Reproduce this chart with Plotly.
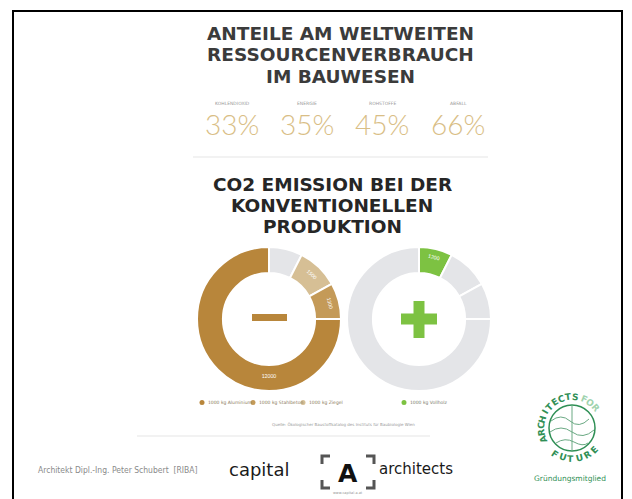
import math
import plotly.graph_objects as go

# ---------------- data ----------------
title_lines = ["ANTEILE AM WELTWEITEN", "RESSOURCENVERBRAUCH", "IM BAUWESEN"]
stat_labels = ["KOHLENDIOXID", "ENERGIE", "ROHSTOFFE", "ABFALL"]
stat_values = ["33%", "35%", "45%", "66%"]
title2_lines = ["CO2 EMISSION BEI DER", "KONVENTIONELLEN", "PRODUKTION"]

left_labels = ["Rest", "1000 kg Ziegel", "1000 kg Stahlbeton", "1000 kg Aluminium"]
left_values = [1200, 1500, 1300, 12000]
left_text = ["", "1500", "1300", "12000"]
left_colors = ["#e4e5e8", "#d6bf95", "#c49a58", "#b8863b"]

right_labels = ["1000 kg Vollholz", "Rest 1", "Rest 2", "Rest 3"]
right_values = [1200, 1500, 1300, 12000]
right_text = ["1200", "", "", ""]
right_colors = ["#7dc242", "#e4e5e8", "#e4e5e8", "#e4e5e8"]

legend_left = ["1000 kg Aluminium", "1000 kg Stahlbeton", "1000 kg Ziegel"]
legend_left_colors = ["#b8863b", "#c49a58", "#d6bf95"]
legend_right = ["1000 kg Vollholz"]
legend_right_colors = ["#7dc242"]

source_text = "Quelle: Ökologischer Baustoffkatalog des Instituts für Baubiologie Wien"
footer_name = "Architekt Dipl.-Ing. Peter Schubert  [RIBA]"

# page body has an 8px margin: figure placed at (8, 8)
OFF = 8
W, H = 632 - OFF, 499 - OFF

fig = go.Figure()

def dom(x0, x1, y0, y1):
    return dict(x=[(x0 - OFF) / W, (x1 - OFF) / W],
                y=[1 - (y1 - OFF) / H, 1 - (y0 - OFF) / H])

fig.add_trace(go.Pie(
    labels=left_labels, values=left_values, text=left_text, textinfo="text",
    sort=False, direction="clockwise", rotation=0, hole=0.64,
    marker=dict(colors=left_colors, line=dict(color="white", width=2)),
    textposition="inside", insidetextorientation="tangential",
    insidetextfont=dict(size=5, color="white", family="Lato"),
    domain=dom(197, 341, 247, 391), showlegend=False, hoverinfo="label+value",
))
fig.add_trace(go.Pie(
    labels=right_labels, values=right_values, text=right_text, textinfo="text",
    sort=False, direction="clockwise", rotation=0, hole=0.64,
    marker=dict(colors=right_colors, line=dict(color="white", width=2)),
    textposition="inside", insidetextorientation="tangential",
    insidetextfont=dict(size=5, color="white", family="Lato"),
    domain=dom(347, 491, 247, 391), showlegend=False, hoverinfo="label+value",
))

ann = []
shapes = []

def A(x, y, text, size, color, family="Lato", weight="normal", angle=0, xanchor="center"):
    ann.append(dict(x=x, y=y, xref="x", yref="y", text=text, showarrow=False,
                    xanchor=xanchor, yanchor="middle", textangle=angle,
                    font=dict(size=size, color=color, family=family, weight=weight)))

# border
shapes.append(dict(type="rect", xref="x", yref="y", x0=13, x1=622, y0=11, y1=502,
                   line=dict(color="black", width=2)))

# titles
for i, t in enumerate(title_lines):
    A(340, 33 + i * 21.5, t, 18.5, "#3b3b3b", family="DejaVu Sans", weight="bold")
for i, t in enumerate(title2_lines):
    A(332, 184 + i * 21, t, 18.5, "#262626", family="DejaVu Sans", weight="bold")

# stats
stat_x = [232, 307, 382, 458]
for x, lab, val in zip(stat_x, stat_labels, stat_values):
    A(x, 103, lab, 4.5, "#9a9a9a", family="DejaVu Sans")
    A(x, 124, val, 28, "#d9be86", family="Lato", weight=300)

# dividers
shapes.append(dict(type="line", xref="x", yref="y", x0=193, x1=488, y0=157, y1=157,
                   line=dict(color="#eeeeee", width=1.5)))
shapes.append(dict(type="line", xref="x", yref="y", x0=137, x1=430, y0=436, y1=436,
                   line=dict(color="#eeeeee", width=1.5)))

# center symbols
shapes.append(dict(type="rect", xref="x", yref="y", x0=252, x1=287, y0=314, y1=321,
                   fillcolor="#b8863b", line=dict(width=0)))
shapes.append(dict(type="rect", xref="x", yref="y", x0=413.5, x1=424.5, y0=301, y1=338,
                   fillcolor="#7dc242", line=dict(width=0)))
shapes.append(dict(type="rect", xref="x", yref="y", x0=401, x1=437, y0=313.5, y1=324.5,
                   fillcolor="#7dc242", line=dict(width=0)))

# legends (manual)
leg_x = [202, 253, 303]
for x, lab, c in zip(leg_x, legend_left, legend_left_colors):
    shapes.append(dict(type="circle", xref="x", yref="y", x0=x - 2.5, x1=x + 2.5,
                       y0=400, y1=405, fillcolor=c, line=dict(width=0)))
    A(x + 4, 402.5, lab, 4.5, "#8a7a5a", family="DejaVu Sans", xanchor="left")
for x, lab, c in zip([404], legend_right, legend_right_colors):
    shapes.append(dict(type="circle", xref="x", yref="y", x0=x - 2.5, x1=x + 2.5,
                       y0=400, y1=405, fillcolor=c, line=dict(width=0)))
    A(x + 4, 402.5, lab, 4.5, "#7a7a6a", family="DejaVu Sans", xanchor="left")

A(343, 424, source_text, 4, "#9a9a9a", family="DejaVu Sans")

# footer
A(36, 470, footer_name, 8.5, "#8a8a8a", family="DejaVu Sans Condensed, Liberation Sans",
  xanchor="left")
A(259, 469, "capital", 18, "#1a1a1a", family="DejaVu Sans")
A(416, 469, "architects", 15, "#1a1a1a", family="DejaVu Sans")
A(348, 493, "www.capital-a.at", 3.5, "#999999", family="DejaVu Sans")
# bracket logo
bx0, bx1, by0, by1, L = 322, 374, 456, 488, 8
for path in [
    f"M{bx0},{by0+L} L{bx0},{by0} L{bx0+L},{by0}",
    f"M{bx1-L},{by0} L{bx1},{by0} L{bx1},{by0+L}",
    f"M{bx0},{by1-L} L{bx0},{by1} L{bx0+L},{by1}",
    f"M{bx1-L},{by1} L{bx1},{by1} L{bx1},{by1-L}",
]:
    shapes.append(dict(type="path", xref="x", yref="y", path=path,
                       line=dict(color="#555555", width=3)))
A(348, 473, "A", 25, "#111111", family="DejaVu Sans", weight="bold")

# Architects for Future logo
cx, cy, r = 572, 428, 23
green = "#2f8f55"
shapes.append(dict(type="circle", xref="x", yref="y", x0=cx - r, x1=cx + r,
                   y0=cy - r, y1=cy + r, line=dict(color=green, width=1.5)))
for p in [
    f"M{cx-21},{cy-7} Q{cx-11},{cy-15} {cx-2},{cy-7} T{cx+17},{cy-9}",
    f"M{cx-22},{cy+4} Q{cx-11},{cy-4} {cx},{cy+4} T{cx+22},{cy+2}",
    f"M{cx-16},{cy+15} Q{cx-7},{cy+9} {cx+2},{cy+14} T{cx+16},{cy+15}",
    f"M{cx},{cy-22} L{cx},{cy+22}",
]:
    shapes.append(dict(type="path", xref="x", yref="y", path=p,
                       line=dict(color="#6aa983", width=1)))

def arc_text(word, t0, t1, rad, color, top=True, size=9):
    n = len(word)
    for i, ch in enumerate(word):
        t = t0 + (t1 - t0) * i / max(n - 1, 1)
        a = math.radians(t)
        x = cx + rad * math.sin(a)
        y = cy - rad * math.cos(a)
        ang = t if top else t - 180
        if ang > 180:
            ang -= 360
        A(x, y, ch, size, color, family="DejaVu Sans", weight="bold", angle=ang)

arc_text("ARCHITECTS", 248, 366, 31, green)
arc_text("FOR", 22, 50, 31, "#9fd3ae")
arc_text("FUTURE", 214, 134, 31, green, top=False)
A(570, 478, "Gründungsmitglied", 7.5, "#2f8f55", family="DejaVu Sans")

fig.update_layout(
    width=W, height=H, margin=dict(l=0, r=0, t=0, b=0),
    paper_bgcolor="white", plot_bgcolor="white",
    xaxis=dict(range=[OFF, 632], visible=False, fixedrange=True),
    yaxis=dict(range=[499, OFF], visible=False, fixedrange=True),
    annotations=ann, shapes=shapes, showlegend=False,
)

fig.write_html("out.html")
